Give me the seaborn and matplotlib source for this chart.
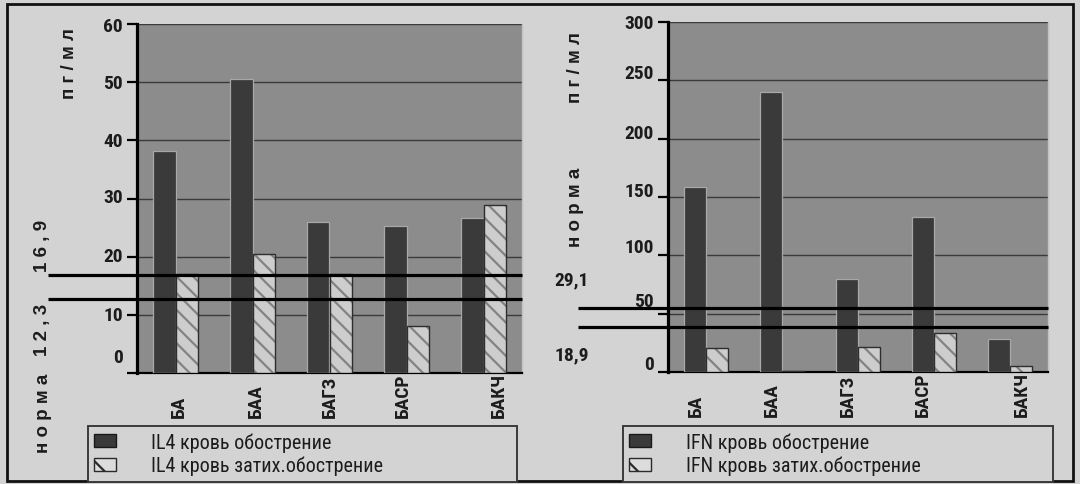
import numpy as np
import pandas as pd
import matplotlib
matplotlib.use('Agg')
import matplotlib.pyplot as plt
import matplotlib.transforms as mtransforms
from matplotlib.patches import Patch, Rectangle
from matplotlib.colors import to_rgba
from matplotlib import font_manager as fm
import seaborn as sns

# ---------------- data ----------------
categories = ['БА', 'БАА', 'БАГЗ', 'БАСР', 'БАКЧ']
il4_exacerbation = [38.2, 50.5, 26.0, 25.3, 26.7]
il4_remission = [17.1, 20.4, 17.1, 8.0, 28.9]
ifn_exacerbation = [158.6, 240.0, 79.7, 132.9, 28.3]
ifn_remission = [20.6, 1.0, 21.4, 33.4, 5.1]
il4_series = ['IL4 кровь обострение', 'IL4 кровь затих.обострение']
ifn_series = ['IFN кровь обострение', 'IFN кровь затих.обострение']
il4_norm_lines = [16.9, 12.8]
ifn_norm_lines = [54.9, 38.6]
il4_yticks = [0, 10, 20, 30, 40, 50, 60]
ifn_yticks = [0, 50, 100, 150, 200, 250, 300]
unit_label = 'п г / м л'
norm_word = 'н о р м а'
il4_norm_texts = ['1 2 , 3', '1 6 , 9']
ifn_norm_texts = ['29,1', '18,9']

# ---------------- style ----------------
sns.set_theme(style='ticks')
available = {f.name for f in fm.fontManager.ttflist}
narrow_pref = ['Arial Narrow', 'Liberation Sans Narrow', 'Roboto Condensed', 'PT Sans Narrow',
               'Archivo Narrow', 'IBM Plex Sans Condensed']
NARROW_FAMILY = next((f for f in narrow_pref if f in available), 'DejaVu Sans')
NARROW = [NARROW_FAMILY, 'DejaVu Sans']
plt.rcParams['font.family'] = NARROW
plt.rcParams['hatch.linewidth'] = 1.6

FIG_BG = '#d3d3d3'
PLOT_BG = '#8c8c8c'
DARK = '#3a3a3a'
LIGHT = '#cdcdcd'
HATCH = '#838383'
INK = '#1c1c1c'

W, H = 1080, 485
fig = plt.figure(figsize=(W / 100, H / 100), dpi=100, facecolor=FIG_BG)


def px(x, y):
    return x / W, 1 - y / H


def make_panel(rect, exac, remis, series, yticks, norm_lines, line_x0,
               tick_offsets, xtick_shift):
    l, t, r, b = rect
    ax = fig.add_axes([l / W, 1 - b / H, (r - l) / W, (b - t) / H])
    ax.set_facecolor(PLOT_BG)
    df = pd.DataFrame({
        'category': categories * 2,
        'value': list(exac) + list(remis),
        'series': [series[0]] * len(categories) + [series[1]] * len(categories),
    })
    sns.barplot(data=df, x='category', y='value', hue='series', order=categories,
                hue_order=series, palette=[DARK, LIGHT], width=0.575, gap=0,
                dodge=True, saturation=1, legend=False, ax=ax, zorder=3)
    n = len(categories)
    for i, p in enumerate(ax.patches):
        if i < n:
            p.set_edgecolor('#a8a8a8')
            p.set_linewidth(0.9)
        else:
            p.set_hatch('\\\\')
            p.set_edgecolor('#2e2e2e')
            p.set_linewidth(1.0)
            if hasattr(p, 'set_hatchcolor'):
                p.set_hatchcolor(HATCH)
            else:
                p._hatch_color = to_rgba(HATCH)
    ax.set_ylim(yticks[0], yticks[-1])
    ax.set_xlim(-0.5, n - 0.5)
    ax.set_yticks(yticks)
    ax.yaxis.grid(True, color='#3a3a3a', lw=1.0, zorder=1)
    ax.xaxis.grid(False)
    ax.set_axisbelow(True)
    ax.set_xlabel('')
    ax.set_ylabel('')
    ax.spines['top'].set_visible(False)
    ax.spines['right'].set_color('#c2c2c2')
    ax.spines['right'].set_linewidth(1.0)
    ax.spines['left'].set_color('black')
    ax.spines['left'].set_linewidth(2.3)
    ax.spines['bottom'].set_color('black')
    ax.spines['bottom'].set_linewidth(1.6)
    ax.tick_params(axis='y', direction='out', length=7, width=1.6, color='black',
                   pad=3, labelsize=14, labelcolor=INK)
    for lab in ax.get_yticklabels():
        lab.set_fontweight('bold')
    # x tick labels
    ax.set_xticks(np.arange(n) + np.array(xtick_shift))
    ax.set_xticklabels(categories, rotation=90, fontsize=14, fontweight='bold',
                       color=INK, va='bottom', ha='center')
    ax.tick_params(axis='x', length=0, pad=31.5)
    # norm lines
    trans = mtransforms.blended_transform_factory(ax.transAxes, ax.transData)
    for v in norm_lines:
        ax.plot([line_x0, 1.0], [v, v], transform=trans, color='black', lw=2.3,
                clip_on=False, zorder=6, solid_capstyle='butt')
    # tick label offsets (as in the printed chart)
    for lab, dy in zip(ax.get_yticklabels(), tick_offsets):
        lab.set_transform(lab.get_transform() +
                          mtransforms.ScaledTranslation(0, dy / 100, fig.dpi_scale_trans))
    return ax


ax1 = make_panel((137, 25, 522, 374), il4_exacerbation, il4_remission, il4_series,
                 il4_yticks, il4_norm_lines, (48 - 137) / 385,
                 [18, 2, 3, 3, 1, 1, 0], [0.05, 0.05, 0.0, -0.05, 0.2])
ax2 = make_panel((668, 23, 1048, 373), ifn_exacerbation, ifn_remission, ifn_series,
                 ifn_yticks, ifn_norm_lines, (578 - 668) / 380,
                 [10, 15, 10, 8, 8, 9, 1], [-0.13, -0.13, -0.13, -0.15, 0.15])

# side texts
side_kw = dict(rotation=90, ha='center', va='center', fontsize=13.5,
               fontweight='bold', color=INK, family=['Liberation Sans', 'DejaVu Sans'])
fig.text(*px(69, 64), unit_label, **side_kw)
fig.text(*px(43, 413), norm_word, **side_kw)
fig.text(*px(43, 330), il4_norm_texts[0], **side_kw)
fig.text(*px(43, 246), il4_norm_texts[1], **side_kw)
fig.text(*px(575, 68), unit_label, **side_kw)
fig.text(*px(575, 207), norm_word, **side_kw)
fig.text(*px(572, 280), ifn_norm_texts[0], ha='center', va='center', fontsize=14,
         fontweight='bold', color=INK)
fig.text(*px(572, 355), ifn_norm_texts[1], ha='center', va='center', fontsize=14,
         fontweight='bold', color=INK)


# legends
def make_legend(series, x0, x1, y0, y1):
    handles = [Patch(facecolor=DARK, edgecolor='#1a1a1a', lw=1.0),
               Patch(facecolor='#dcdcdc', edgecolor='#2a2a2a', lw=1.0, hatch='\\')]
    leg = fig.legend(handles=handles, labels=series, loc='upper left',
                     bbox_to_anchor=(x0 / W, 1 - y1 / H, (x1 - x0) / W, (y1 - y0) / H),
                     mode='expand', borderaxespad=0, borderpad=0.3, labelspacing=0.22,
                     handlelength=1.1, handleheight=0.6, handletextpad=1.75,
                     fontsize=14.5, frameon=True, fancybox=False, framealpha=1,
                     facecolor=FIG_BG, edgecolor='#3a3a3a')
    leg.get_frame().set_linewidth(1.4)
    for t in leg.get_texts():
        t.set_color(INK)
    return leg


make_legend(il4_series, 88, 517, 427, 476)
make_legend(ifn_series, 623, 1053, 427, 476)

# outer frame
fig.add_artist(Rectangle((7 / W, 3 / H), 1066 / W, 477 / H, transform=fig.transFigure,
                         fill=False, edgecolor='#111111', lw=2.0))

fig.savefig('out.png', dpi=100, facecolor=FIG_BG)
